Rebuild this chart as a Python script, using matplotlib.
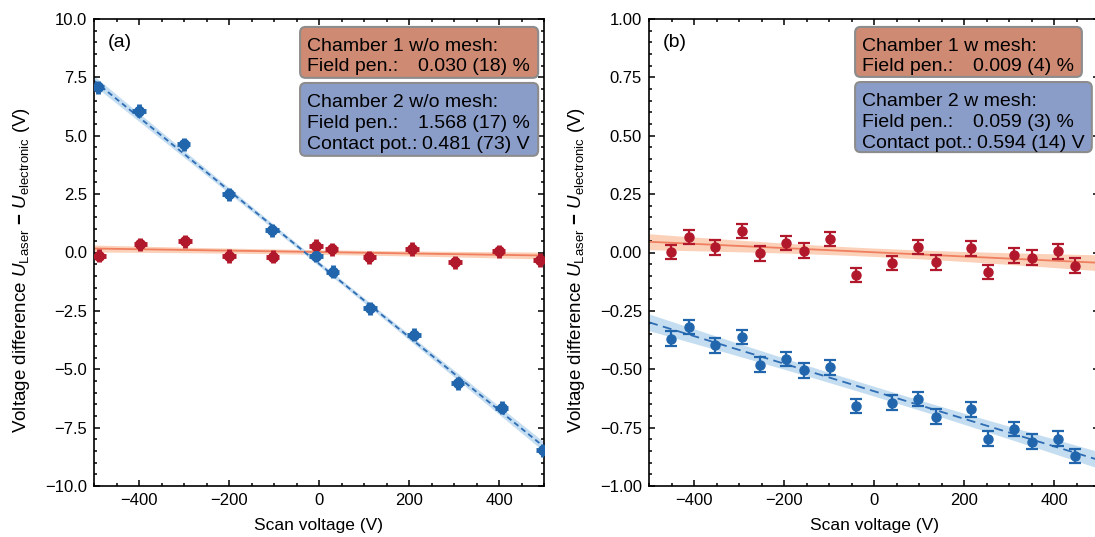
import numpy as np
import matplotlib
matplotlib.use("Agg")
import matplotlib.pyplot as plt
from matplotlib.patches import FancyBboxPatch
from matplotlib.ticker import MultipleLocator

plt.rcParams['font.family'] = ['Liberation Sans', 'DejaVu Sans']
plt.rcParams['mathtext.fontset'] = 'custom'
plt.rcParams['mathtext.rm'] = 'Liberation Sans'
plt.rcParams['mathtext.it'] = 'Liberation Sans:italic'
plt.rcParams['mathtext.bf'] = 'Liberation Sans:bold'

# ---------------- data: panel (a) without mesh ----------------
a_red_x = [-489, -397, -298, -200, -103, -7, 28, 112, 207, 302, 399, 490]
a_red_y = [-0.14, 0.36, 0.49, -0.15, -0.18, 0.28, 0.14, -0.20, 0.15, -0.42, 0.06, -0.32]
a_blue_x = [-492, -400, -301, -201, -104, -7, 30, 113, 211, 308, 406, 497]
a_blue_y = [7.08, 6.07, 4.63, 2.49, 0.96, -0.14, -0.82, -2.39, -3.53, -5.60, -6.64, -8.46]
a_xerr = 15
a_yerr = 0.28

# fit parameters (slope, intercept, band a, band b)
a_red_fit = [-0.00030, 0.02, 0.10, 0.00022]
a_blue_fit = [-0.01568, -0.481, 0.10, 0.00036]

# ---------------- data: panel (b) with mesh ----------------
b_x = [-451, -411, -353, -293, -253, -196, -156, -97, -39, 39, 98, 138, 215, 253, 312, 350, 409, 447]
b_red_y = [0.003, 0.066, 0.022, 0.092, -0.004, 0.041, 0.008, 0.058, -0.096, -0.045,
           0.024, -0.042, 0.018, -0.083, -0.012, -0.022, 0.005, -0.056]
b_blue_y = [-0.369, -0.318, -0.398, -0.361, -0.480, -0.456, -0.505, -0.492, -0.657, -0.643,
            -0.627, -0.703, -0.672, -0.797, -0.757, -0.810, -0.797, -0.871]
b_yerr = 0.031

b_red_fit = [-0.00009, 0.001, 0.018, 0.000058]
b_blue_fit = [-0.00059, -0.594, 0.021, 0.000058]

# box texts
a_box1 = ["Chamber 1 w/o mesh:", [("Field pen.:", "0.030 (18) %")]]
a_box2 = ["Chamber 2 w/o mesh:", [("Field pen.:", "1.568 (17) %"), ("Contact pot.:", "0.481 (73) V")]]
b_box1 = ["Chamber 1 w mesh:", [("Field pen.:", "0.009 (4) %")]]
b_box2 = ["Chamber 2 w mesh:", [("Field pen.:", "0.059 (3) %"), ("Contact pot.:", "0.594 (14) V")]]

RED = '#B2182B'
BLUE = '#2166AC'
RED_LINE = '#EF7F5F'
RED_BAND = '#FBC9AE'
BLUE_LINE = '#2E6DB4'
BLUE_BAND = '#BBD8EE'
RED_BOX = '#CE8A73'
BLUE_BOX = '#8A9DC9'

fig = plt.figure(figsize=(10.95, 5.37), dpi=100)
W, H = 1095, 537
axA = fig.add_axes([94 / W, 51 / H, 450 / W, 467 / H])
axB = fig.add_axes([649 / W, 51 / H, 450 / W, 467 / H])

xx = np.linspace(-500, 500, 201)


def draw_fit(ax, p, line, band, ls):
    s, i, a, b = p
    y = s * xx + i
    err = np.sqrt(a ** 2 + (b * xx) ** 2)
    ax.fill_between(xx, y - err, y + err, color=band, lw=0, alpha=0.85, zorder=1)
    ax.plot(xx, y, color=line, lw=1.3, ls=ls, zorder=2)


def draw_box(ax, x0, x1, y0, y1, color, title, rows, xt, xv, ytop, dy):
    box = FancyBboxPatch((x0, y0), x1 - x0, y1 - y0, transform=ax.transAxes,
                         boxstyle="round,pad=0,rounding_size=0.012",
                         fc=color, ec='#8C8C8C', lw=1.5, zorder=5)
    ax.add_patch(box)
    ax.text(xt, ytop, title, transform=ax.transAxes, fontsize=14, va='center_baseline', ha='left', zorder=6)
    for k, (lab, val) in enumerate(rows):
        yy = ytop - dy * (k + 1)
        ax.text(xt, yy, lab, transform=ax.transAxes, fontsize=14, va='center_baseline', ha='left', zorder=6)
        ax.text(xv[k], yy, val, transform=ax.transAxes, fontsize=14, va='center_baseline', ha='right', zorder=6)


# ---- panel (a)
draw_fit(axA, a_red_fit, RED_LINE, RED_BAND, '-')
draw_fit(axA, a_blue_fit, BLUE_LINE, BLUE_BAND, (0, (3, 2)))
axA.errorbar(a_red_x, a_red_y, xerr=a_xerr, yerr=a_yerr, fmt='o', color=RED, ms=7,
             elinewidth=3.5, capsize=0, zorder=3)
axA.errorbar(a_blue_x, a_blue_y, xerr=a_xerr, yerr=a_yerr, fmt='o', color=BLUE, ms=7,
             elinewidth=3.5, capsize=0, zorder=3)
axA.set_xlim(-500, 500)
axA.set_ylim(-10, 10)
axA.yaxis.set_minor_locator(MultipleLocator(0.5))
axA.set_yticks(np.arange(-10, 10.01, 2.5))
axA.set_yticklabels([f"{v:.1f}".replace('-', '\u2212') for v in np.arange(-10, 10.01, 2.5)])
axA.text(0.03, 0.949, "(a)", transform=axA.transAxes, fontsize=14, va='center')
draw_box(axA, 0.458, 0.987, 0.874, 0.983, RED_BOX, a_box1[0], a_box1[1],
         0.473, [0.969], 0.945, 0.043)
draw_box(axA, 0.458, 0.987, 0.707, 0.863, BLUE_BOX, a_box2[0], a_box2[1],
         0.473, [0.969, 0.969], 0.826, 0.045)

# ---- panel (b)
draw_fit(axB, b_red_fit, RED_LINE, RED_BAND, '-')
draw_fit(axB, b_blue_fit, BLUE_LINE, BLUE_BAND, (0, (5, 3)))
axB.errorbar(b_x, b_red_y, yerr=b_yerr, fmt='o', color=RED, ms=6.5,
             elinewidth=1.6, capsize=4.5, capthick=1.6, zorder=3)
axB.errorbar(b_x, b_blue_y, yerr=b_yerr, fmt='o', color=BLUE, ms=6.5,
             elinewidth=1.6, capsize=4.5, capthick=1.6, zorder=3)
axB.set_xlim(-500, 500)
axB.set_ylim(-1, 1)
axB.yaxis.set_minor_locator(MultipleLocator(0.05))
axB.set_yticks(np.arange(-1, 1.001, 0.25))
axB.set_yticklabels([f"{v:.2f}".replace('-', '\u2212') for v in np.arange(-1, 1.001, 0.25)])
axB.text(0.03, 0.949, "(b)", transform=axB.transAxes, fontsize=14, va='center')
draw_box(axB, 0.458, 0.962, 0.876, 0.983, RED_BOX, b_box1[0], b_box1[1],
         0.473, [0.944], 0.945, 0.043)
draw_box(axB, 0.458, 0.984, 0.715, 0.865, BLUE_BOX, b_box2[0], b_box2[1],
         0.473, [0.944, 0.969], 0.828, 0.045)

ylab = 'Voltage difference $U_\\mathrm{Laser}$ $\\mathbf{-}$ $U_\\mathrm{electronic}$ (V)'
for ax in (axA, axB):
    ax.xaxis.set_minor_locator(MultipleLocator(50))
    ax.set_xticks([-400, -200, 0, 200, 400])
    ax.set_xticklabels(['\u2212400', '\u2212200', '0', '200', '400'])
    ax.tick_params(which='both', direction='in', top=True, right=True, labelsize=12, width=1.1)
    ax.tick_params(which='major', length=4.5, pad=5)
    ax.tick_params(which='minor', length=2.5)
    for sp in ax.spines.values():
        sp.set_linewidth(1.2)
    ax.set_xlabel('Scan voltage (V)', fontsize=12.5, labelpad=7)
    ax.set_ylabel(ylab, fontsize=13.5)
    ax.yaxis.set_label_coords(-0.137, 0.462)

fig.savefig('out.png', dpi=100)
